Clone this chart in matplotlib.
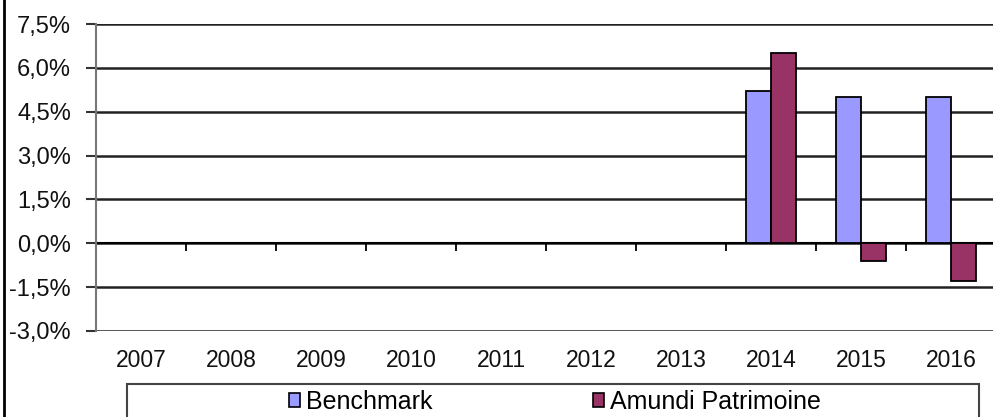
import numpy as np
import matplotlib
matplotlib.use("Agg")
import matplotlib.pyplot as plt
from matplotlib.patches import Rectangle
from matplotlib.lines import Line2D

plt.rcParams["font.family"] = ["Liberation Sans", "DejaVu Sans"]

years = ["2007", "2008", "2009", "2010", "2011", "2012", "2013", "2014", "2015", "2016"]
benchmark = [np.nan, np.nan, np.nan, np.nan, np.nan, np.nan, np.nan, 5.2, 5.0, 5.0]
amundi = [np.nan, np.nan, np.nan, np.nan, np.nan, np.nan, np.nan, 6.5, -0.6, -1.3]
y_ticks = [-3.0, -1.5, 0.0, 1.5, 3.0, 4.5, 6.0, 7.5]

W, H = 993, 417
fig = plt.figure(figsize=(W / 100, H / 100), dpi=100)
ax = fig.add_axes([96 / W, 1 - 331 / H, 900 / W, 307 / H])

x = np.arange(len(years))
bw = 0.28
ax.bar(x - bw / 2, benchmark, bw, color="#9999FF", edgecolor="black", linewidth=1.3,
       label="Benchmark", zorder=3)
ax.bar(x + bw / 2, amundi, bw, color="#993366", edgecolor="black", linewidth=1.3,
       label="Amundi Patrimoine", zorder=3)

ax.set_xlim(-0.5, len(years) - 0.5)
ax.set_ylim(-3.0, 7.5)
ax.set_yticks(y_ticks)
ax.set_yticklabels([f"{v:.1f}%".replace(".", ",") for v in y_ticks])
ax.yaxis.grid(True, color="#222222", linewidth=1.8, zorder=1)
ax.tick_params(axis="y", length=7, width=1.5, color="#333333", pad=11,
               labelsize=17, labelcolor="#111111")

ax.set_xticks(x)
ax.set_xticklabels(years)
ax.tick_params(axis="x", length=0, pad=13, labelsize=16.5, labelcolor="#111111")

# zero line with category separators
ax.axhline(0, color="black", linewidth=1.5, zorder=2)
ax.vlines(np.arange(0.5, len(years) - 0.5), -0.25, 0, color="black", linewidth=1.3, zorder=2)

for s in ("top", "right", "bottom"):
    ax.spines[s].set_visible(False)
ax.spines["left"].set_color("#777777")
ax.spines["left"].set_linewidth(1.5)

# legend box (runs off the bottom of the picture)
fig.patches.append(Rectangle((127 / W, -0.1), (979 - 127) / W, 0.1 + 1 - 384 / H,
                             transform=fig.transFigure, fill=False,
                             edgecolor="#444444", linewidth=1.5))
leg = fig.legend(loc="center", bbox_to_anchor=(555 / W, 1 - 402 / H), ncol=2,
                 frameon=False, fontsize=18, handlelength=0.45, handleheight=0.45,
                 handletextpad=0.25, columnspacing=6.4, borderpad=0)
for h in leg.legend_handles:
    h.set_linewidth(1.2)

# outer frame line on the left
fig.add_artist(Line2D([4 / W, 4 / W], [0, 1], transform=fig.transFigure,
                      color="black", linewidth=2))

fig.savefig("out.png", dpi=100)
